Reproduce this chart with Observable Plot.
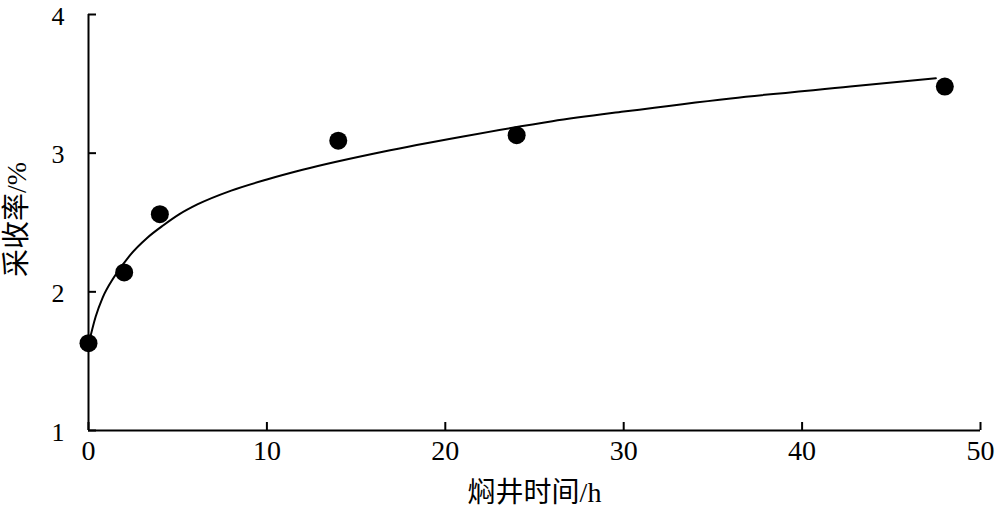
<!DOCTYPE html>
<html>
<head>
<meta charset="utf-8">
<script src="https://cdn.jsdelivr.net/npm/d3@7"></script>
<script src="https://cdn.jsdelivr.net/npm/@observablehq/plot@0.6"></script>
<style>
  html, body { margin: 0; padding: 0; background: #fff; }
  svg { display: block; }
</style>
</head>
<body>
<div id="chart"></div>
<script>
// Measured points
const soakHours = [0, 2, 4, 14, 24, 48];
const recovery = [1.63, 2.14, 2.56, 3.09, 3.13, 3.48];

// Fitted curve
const curveHours = [0, 0.4, 0.8, 1.4, 2.3, 3.3, 4.2, 5.1, 6.1, 8, 10, 12, 16.5, 21, 26, 30, 36, 42.7, 47.5];
const curveRecovery = [1.62, 1.82, 1.96, 2.10, 2.26, 2.39, 2.48, 2.56, 2.63, 2.73, 2.81, 2.88, 3.01, 3.12, 3.23, 3.30, 3.395, 3.48, 3.54];

const xTicks = [0, 10, 20, 30, 40, 50];
const yTicks = [1, 2, 3, 4];
const xTitle = "焖井时间/h";
const yTitle = "采收率/%";

const points = soakHours.map((h, i) => ({h, r: recovery[i]}));
const curve = curveHours.map((h, i) => ({h, r: curveRecovery[i]}));

const font = "'Liberation Serif', 'Times New Roman', 'Noto Sans CJK SC', serif";

// inward tick length (8 px) expressed in each scale's units
const xTickLen = 8 * 50 / (1000 - 88 - 20);
const yTickLen = 8 * 3 / (517 - 14 - 87);

const chart = Plot.plot({
  width: 1000,
  height: 517,
  marginLeft: 88,
  marginRight: 20,
  marginTop: 14,
  marginBottom: 87,
  style: {fontFamily: font, fontSize: "28px", color: "#000", background: "#fff"},
  x: {domain: [0, 50]},
  y: {domain: [1, 4]},
  marks: [
    Plot.axisX(xTicks, {tickSize: 0, tickPadding: 10, fontSize: 28, tickFormat: "d", label: null}),
    Plot.axisY(yTicks, {tickSize: 0, tickPadding: 24, fontSize: 26, dy: 2, tickFormat: "d", label: null}),
    Plot.ruleX(xTicks, {y1: 1, y2: 1 + yTickLen, strokeWidth: 2, stroke: "#000"}),
    Plot.ruleY(yTicks, {x1: 0, x2: xTickLen, strokeWidth: 2, stroke: "#000"}),
    Plot.ruleX([0], {y1: 1, y2: 4, strokeWidth: 2, stroke: "#000"}),
    Plot.ruleY([1], {x1: 0, x2: 50, strokeWidth: 2, stroke: "#000"}),
    Plot.line(curve, {x: "h", y: "r", curve: "monotone-x", stroke: "#000", strokeWidth: 2}),
    Plot.dot(points, {x: "h", y: "r", r: 9, fill: "#000", stroke: "none"}),
    Plot.text([xTitle], {frameAnchor: "bottom", dy: 71, fontSize: 28, fill: "#000"}),
    Plot.text([yTitle], {frameAnchor: "left", dx: -71, dy: -3, rotate: -90, textAnchor: "middle", fontSize: 28, fill: "#000"})
  ]
});
document.getElementById("chart").appendChild(chart);
</script>
</body>
</html>
